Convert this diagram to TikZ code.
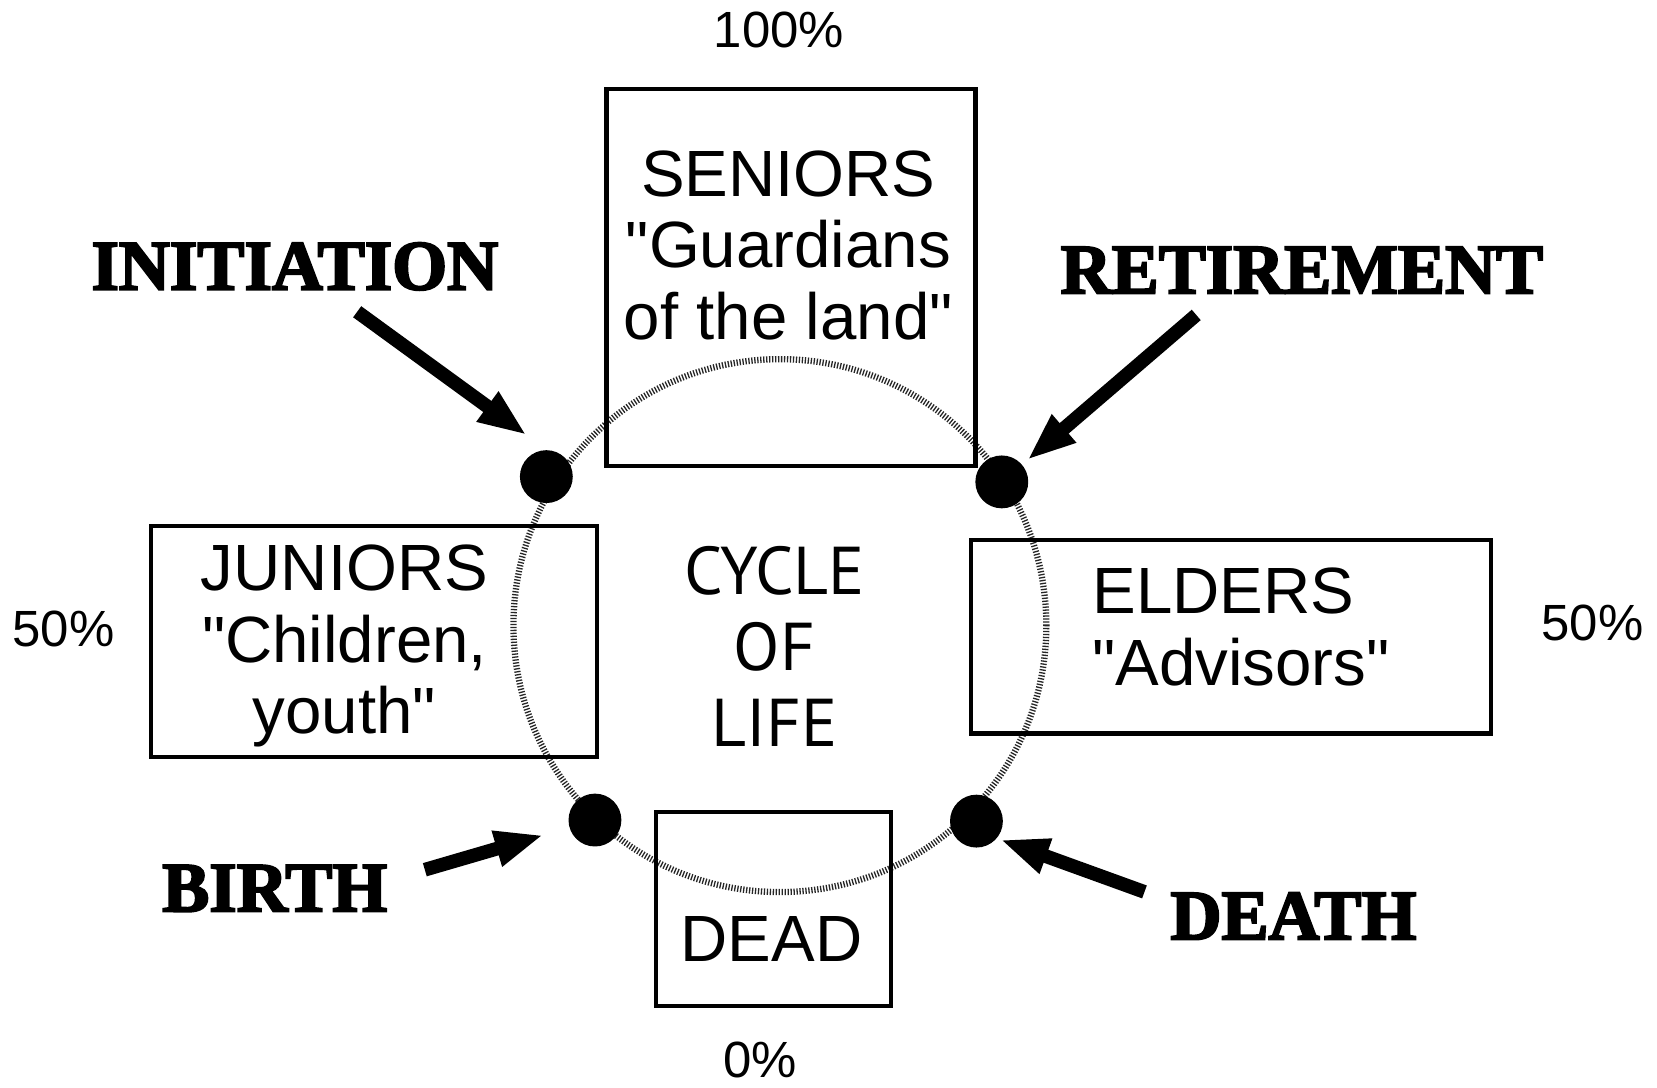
\documentclass[tikz,border=0pt]{standalone}
\usepackage{fontspec}
\setmainfont[Ligatures=TeXOff]{Liberation Sans}
\newfontfamily\heavyfont[BoldFeatures={FakeBold=3}]{Liberation Serif}
\newfontfamily\cyclefont{PT Sans}
\usetikzlibrary{arrows.meta}
\tikzset{
  ageBox/.style={%
    rectangle, draw, line width=1.1pt, inner sep=0pt,
  },
  boxText/.style={%
    inner sep=0pt, align=center, font=\fontsize{17.6}{19.2}\selectfont,
  },
  cycleText/.style={%
    inner sep=0pt, align=center, font=\cyclefont\fontsize{18.2}{20.5}\selectfont,
  },
  percentLabel/.style={%
    inner sep=0pt, font=\fontsize{13.7}{15}\selectfont,
  },
  eventLabel/.style={%
    inner sep=0pt, font=\heavyfont\bfseries\fontsize{19}{20}\selectfont,
  },
  eventDot/.style={%
    circle, fill=black, inner sep=0pt, minimum size=0.5cm,
  },
  eventArrow/.style={%
    line width=0.13cm, -{Triangle[length=0.46cm,width=0.32cm]},
  },
  lifeCircle/.style={%
    draw=black!85, line width=1.7pt, dash pattern=on 0.35pt off 0.45pt,
  }
}

\begin{document}
\begin{tikzpicture}[x=0.01cm, y=-0.01cm]
  \useasboundingbox (0,0) rectangle (1568,1029);

  \coordinate (lifeCenter) at (738,592);
  \draw[lifeCircle] (lifeCenter) circle[radius=2.52cm];

  \node[ageBox, minimum width=3.49cm, minimum height=3.57cm] (seniorsBox) at (748.5,262.5) {};
  \node[ageBox, minimum width=4.22cm, minimum height=2.18cm] (juniorsBox) at (354,607) {};
  \node[ageBox, minimum width=4.92cm, minimum height=1.83cm] (eldersBox) at (1165,602.5) {};
  \node[ageBox, minimum width=2.22cm, minimum height=1.84cm] (deadBox) at (732,860) {};

  \node[boxText, anchor=north] (seniorsText) at (746,142) {SENIORS\\"Guardians\\of the land"};
  \node[boxText, anchor=north] (juniorsText) at (326,515) {JUNIORS\\"Children,\\youth"};
  \node[boxText, anchor=north west, align=left] (eldersText) at (1033,537) {ELDERS\\"Advisors"};
  \node[boxText, anchor=north] (deadText) at (730,867) {DEAD};
  \node[cycleText, anchor=north] (cycleLabel) at (733,516) {CYCLE\\OF\\LIFE};

  \node[percentLabel, anchor=north] (topPct) at (737,11) {100\%};
  \node[percentLabel, anchor=north] (leftPct) at (60,577) {50\%};
  \node[percentLabel, anchor=north] (rightPct) at (1507,572) {50\%};
  \node[percentLabel, anchor=north] (bottomPct) at (719,985) {0\%};

  \node[eventLabel, anchor=north] (initiation) at (279,229) {INITIATION};
  \node[eventLabel, anchor=north] (retirement) at (1232,233) {RETIREMENT};
  \node[eventLabel, anchor=north] (birth) at (260,818) {BIRTH};
  \node[eventLabel, anchor=north] (death) at (1224,844) {DEATH};

  \node[eventDot] (initDot) at (517,451) {};
  \node[eventDot] (retireDot) at (948,456) {};
  \node[eventDot] (birthDot) at (563,776) {};
  \node[eventDot] (deathDot) at (924,777) {};

  \coordinate (initTail) at (338,295);
  \coordinate (retireTail) at (1132,298);
  \coordinate (birthTail) at (402,823);
  \coordinate (deathTail) at (1083,844);

  \draw[eventArrow, shorten >=0.23cm] (initTail) -- (initDot.north);
  \draw[eventArrow, shorten >=0.06cm] (retireTail) -- (retireDot);
  \draw[eventArrow, shorten >=0.25cm] (birthTail) -- (birthDot);
  \draw[eventArrow, shorten >=0.03cm] (deathTail) -- (deathDot.-40);
\end{tikzpicture}
\end{document}
